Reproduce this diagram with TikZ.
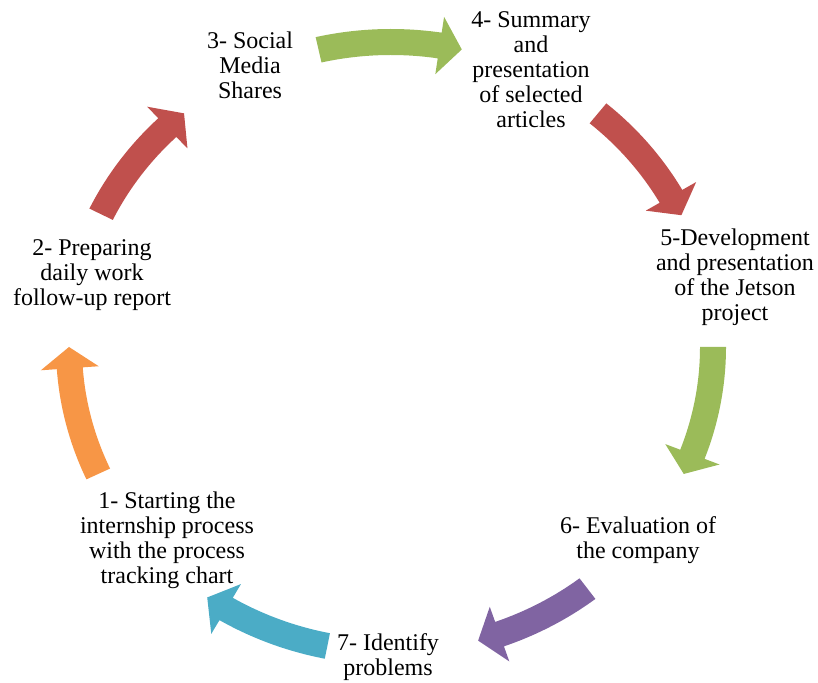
\documentclass[tikz,border=0pt]{standalone}
\usepackage{fontspec}
\setmainfont{Liberation Serif}
\usepackage{tikz}
\definecolor{cycorange}{HTML}{F79646}
\definecolor{cycred}{HTML}{C0504D}
\definecolor{cycgreen}{HTML}{9BBB59}
\definecolor{cycpurple}{HTML}{8064A2}
\definecolor{cycblue}{HTML}{4BACC6}
% curved block arrow on the cycle: colour, tail angle, tip angle
\newcommand{\cycarrow}[3]{%
  \pgfmathsetmacro{\hb}{#3+4}
  \fill[#1] (#2:335 and 318) arc[start angle=#2, end angle=\hb, x radius=335, y radius=318]
    -- (\hb:351 and 334) -- (#3:322 and 305) -- (\hb:293 and 276)
    -- (\hb:309 and 292) arc[start angle=\hb, end angle=#2, x radius=309, y radius=292] -- cycle;
}

\begin{document}
\begin{tikzpicture}[x=0.5pt,y=0.5pt]
\tikzset{lbl/.style={align=center,inner sep=0pt,font=\fontsize{12}{12.5}\selectfont}}
\useasboundingbox (0,0) rectangle (818,683);

\begin{scope}[shift={(391,336)}]
\cycarrow{cycorange}{204.6}{180}
\cycarrow{cycred}{154.2}{130}
\cycarrow{cycgreen}{103}{77.3}
\cycarrow{cycred}{50}{25.6}
\cycarrow{cycgreen}{0}{-24.6}
\cycarrow{cycpurple}{-52.4}{-74.3}
\cycarrow{cycblue}{-101.4}{-124.8}
\end{scope}

\node[lbl] (s1) at (167,143) {1- Starting the\\internship process\\with the process\\tracking chart};
\node[lbl] (s2) at (92,408) {2- Preparing\\daily work\\follow-up report};
\node[lbl] (s3) at (250,618) {3- Social\\Media\\Shares};
\node[lbl] (s4) at (531,613) {4- Summary\\and\\presentation\\of selected\\articles};
\node[lbl] (s5) at (735,406) {5-Development\\and presentation\\of the Jetson\\project};
\node[lbl] (s6) at (638,143) {6- Evaluation of\\the company};
\node[lbl] (s7) at (388,26) {7- Identify\\problems};
\end{tikzpicture}
\end{document}
